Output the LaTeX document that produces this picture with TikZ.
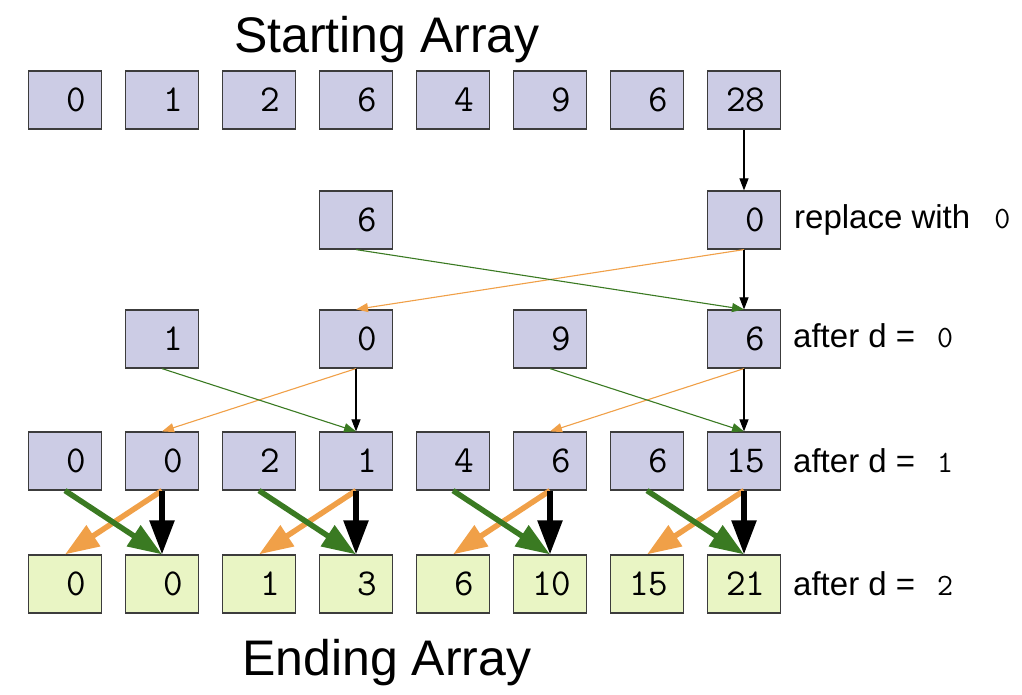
\documentclass[tikz,border=0pt]{standalone}
\usepackage{fontspec}
\setmainfont{Liberation Sans}
\usetikzlibrary{arrows.meta}

\definecolor{boxblue}{RGB}{204,204,229}
\definecolor{boxgreen}{RGB}{233,245,196}
\definecolor{boxline}{RGB}{60,60,60}
\definecolor{arrorange}{RGB}{240,160,72}
\definecolor{arrgreen}{RGB}{58,122,34}

\newcommand{\cellfont}{\fontsize{38}{40}\selectfont\ttfamily}
\newcommand{\labelfont}{\fontsize{33}{38}\selectfont}
\newcommand{\titlefont}{\fontsize{50}{58}\selectfont}
\newcommand{\smallnum}[1]{{\fontsize{31}{34}\selectfont\ttfamily #1}}

\tikzset{
    cell/.style={draw=boxline, line width=1.2pt, fill=boxblue,
        minimum width=73pt, minimum height=58pt, text width=43pt,
        inner xsep=15pt, align=right, font=\cellfont},
    endcell/.style={cell, fill=boxgreen},
    thinarr/.style={line width=1.1pt, -{Triangle[length=12pt,width=9pt]}},
    thickarr/.style={line width=5.5pt, -{Triangle[length=34pt,width=24pt]}},
    sidelabel/.style={anchor=base west, inner sep=0pt, font=\labelfont}
}

\begin{document}
\begin{tikzpicture}[x=1pt, y=-1pt]

    % Fix the size of the picture
    \useasboundingbox (0,0) rectangle (1022,695);

    % Titles
    \node[anchor=base, inner sep=0pt, font=\titlefont] (title) at (387,53) {Starting Array};
    \node[anchor=base, inner sep=0pt, font=\titlefont] (ending) at (387,675) {Ending Array};

    % Starting array
    \foreach \v [count=\i from 0] in {0,1,2,6,4,9,6,28}
        \node[cell] (s\i) at ({65+97*\i},100) {\v};

    % Row after the last element is replaced
    \node[cell] (a3) at (356,220) {6};
    \node[cell] (a7) at (744,220) {0};

    % Row after d = 0
    \node[cell] (b1) at (162,339) {1};
    \node[cell] (b3) at (356,339) {0};
    \node[cell] (b5) at (550,339) {9};
    \node[cell] (b7) at (744,339) {6};

    % Row after d = 1
    \foreach \v [count=\i from 0] in {0,0,2,1,4,6,6,15}
        \node[cell] (c\i) at ({65+97*\i},461) {\v};

    % Ending array
    \foreach \v [count=\i from 0] in {0,0,1,3,6,10,15,21}
        \node[endcell] (e\i) at ({65+97*\i},584) {\v};

    % Labels on the right
    \node[sidelabel] (lrep) at (794,228) {replace with\hspace{24pt}\smallnum{0}};
    \node[sidelabel] (ld0) at (793,347) {after d =\hspace{22pt}\smallnum{0}};
    \node[sidelabel] (ld1) at (793,472) {after d =\hspace{22pt}\smallnum{1}};
    \node[sidelabel] (ld2) at (793,595) {after d =\hspace{22pt}\smallnum{2}};

    % Replace the last element
    \draw[thinarr] (s7.south) -- (a7.north);

    % d = 0
    \draw[thinarr, arrorange] (a7.south) -- (b3.north);
    \draw[thinarr, arrgreen] (a3.south) -- (b7.north);
    \draw[thinarr] (a7.south) -- (b7.north);

    % d = 1
    \foreach \l/\r in {1/3,5/7} {
        \draw[thinarr, arrorange] (b\r.south) -- (c\l.north);
        \draw[thinarr, arrgreen] (b\l.south) -- (c\r.north);
        \draw[thinarr] (b\r.south) -- (c\r.north);
    }

    % d = 2
    \foreach \l/\r in {0/1,2/3,4/5,6/7} {
        \draw[thickarr, arrorange] (c\r.south) -- (e\l.north);
        \draw[thickarr, arrgreen] (c\l.south) -- (e\r.north);
        \draw[thickarr] (c\r.south) -- (e\r.north);
    }

\end{tikzpicture}
\end{document}
